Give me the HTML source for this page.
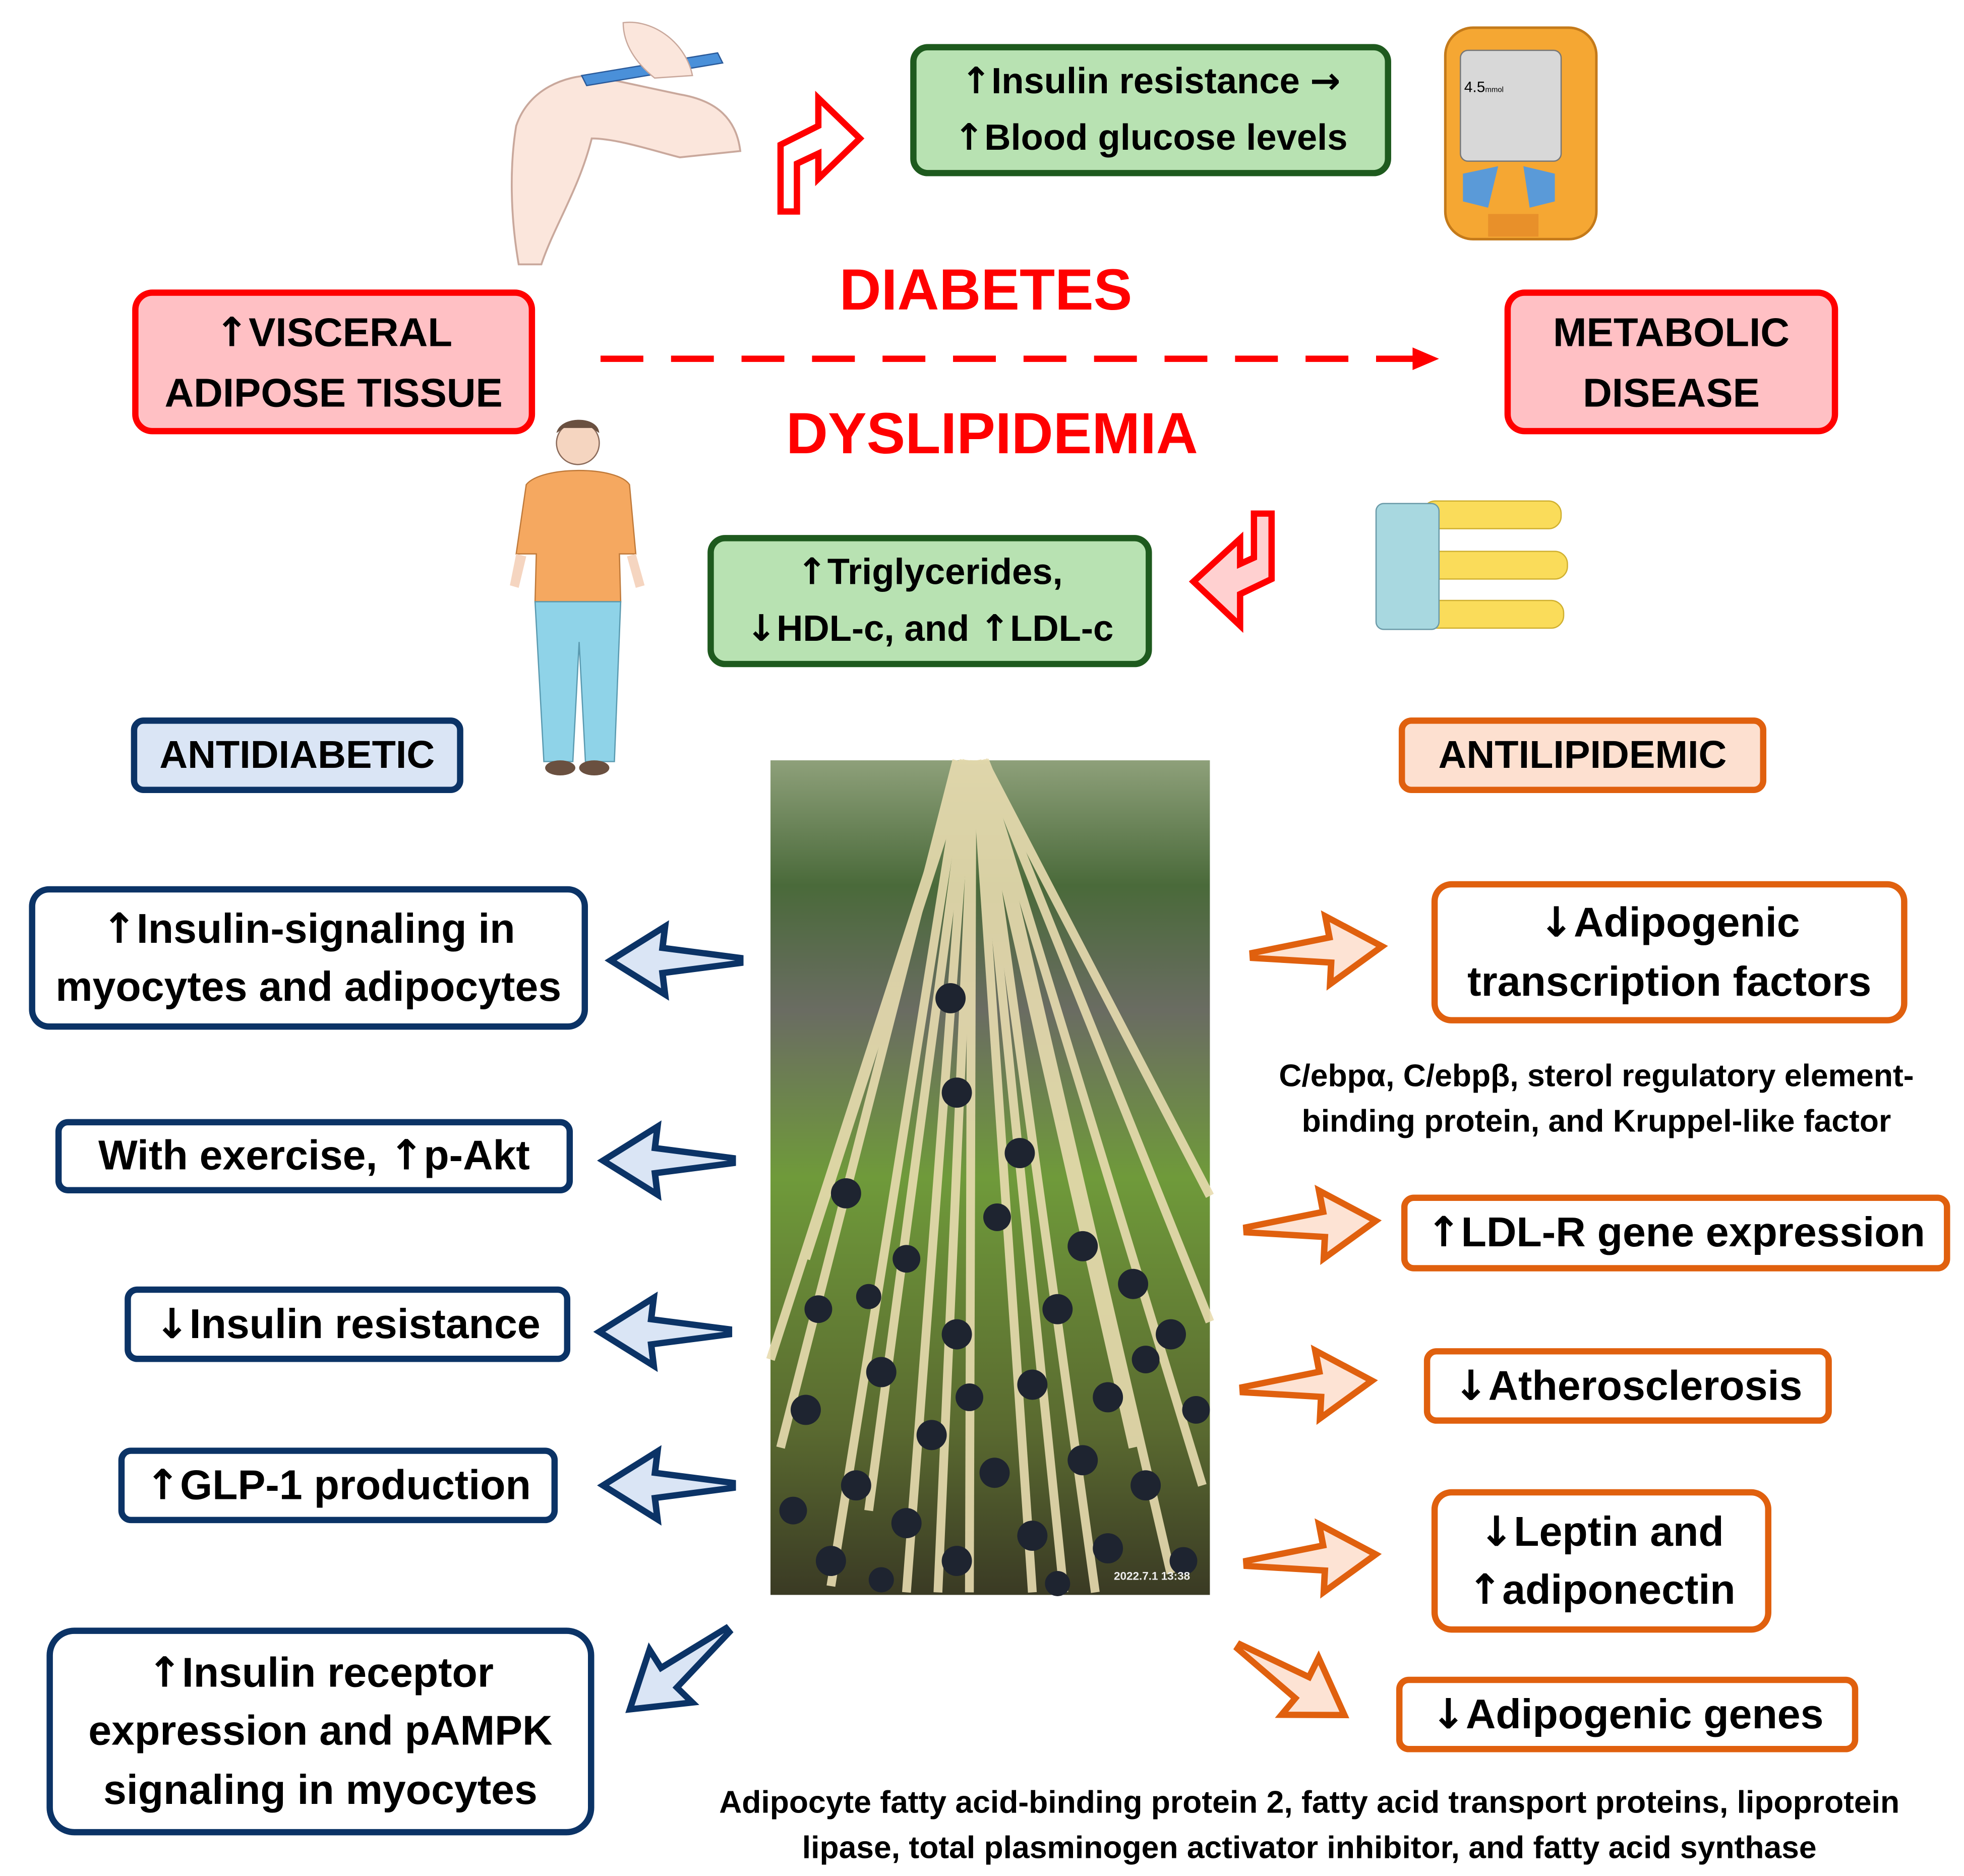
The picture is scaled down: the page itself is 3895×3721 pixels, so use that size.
<!DOCTYPE html>
<html><head><meta charset="utf-8"><style>
html,body{margin:0;padding:0;background:#fff;}
body{width:3895px;height:3721px;overflow:hidden;position:relative;}
#w{position:absolute;left:0;top:0;width:1560px;height:1490px;transform:scale(2.4968);transform-origin:0 0;font-family:"Liberation Sans",sans-serif;font-weight:bold;}
.b{position:absolute;box-sizing:border-box;border-radius:16px;display:flex;align-items:center;justify-content:center;text-align:center;line-height:1.4;color:#000;}
.r{background:#ffc0c4;border:5px solid #ff0000;font-size:32px;line-height:1.5;}
.g{background:#b8e2b2;border:5px solid #1e5a1e;font-size:29px;border-radius:14px;}
.n{background:#fff;border:5px solid #0b3366;font-size:33px;}
.o{background:#fff;border:5px solid #e0600e;font-size:33px;}
.t{position:absolute;text-align:center;font-size:25px;line-height:36px;color:#000;white-space:nowrap;}
.big{position:absolute;color:#ff0000;font-size:46px;text-align:center;white-space:nowrap;}
i{font-style:normal;font-family:"DejaVu Sans",sans-serif;font-weight:bold;}
svg{position:absolute;left:0;top:0;}
</style></head><body><div id="w">
<svg width="1560" height="1490" viewBox="0 0 1560 1490">
<defs>
<linearGradient id="ph" x1="0" y1="0" x2="0" y2="1">
<stop offset="0" stop-color="#8ea07a"/><stop offset="0.15" stop-color="#4a6a3a"/><stop offset="0.3" stop-color="#6a6c62"/><stop offset="0.5" stop-color="#6f9a3a"/><stop offset="0.8" stop-color="#5a6a30"/><stop offset="1" stop-color="#3a3a24"/>
</linearGradient>
<path id="ar" d="M0,-2 L60,-10 L58,-27 L100,0 L58,27 L60,10 L0,2 Z"/>
</defs>
<rect x="612" y="604" width="349" height="663" fill="url(#ph)"/>
<g stroke="#e8dcb0" stroke-width="7" fill="none" opacity="0.9">
<path d="M760,604 L620,1150"/><path d="M765,604 L660,1260"/><path d="M770,604 L720,1265"/><path d="M772,604 L770,1265"/><path d="M775,604 L820,1265"/><path d="M778,604 L870,1265"/><path d="M780,604 L930,1250"/><path d="M782,604 L961,1050"/><path d="M768,604 L640,1000"/><path d="M776,604 L900,1150"/><path d="M770,604 L690,1200"/><path d="M779,604 L955,1180"/>
<path d="M774,604 L745,1265"/><path d="M777,604 L845,1265"/><path d="M766,604 L612,1080"/><path d="M781,604 L961,950"/>
</g>
<g fill="#1e2430">
<circle cx="755" cy="793" r="12"/><circle cx="760" cy="868" r="12"/><circle cx="810" cy="916" r="12"/><circle cx="672" cy="948" r="12"/><circle cx="860" cy="990" r="12"/><circle cx="792" cy="967" r="11"/>
<circle cx="720" cy="1000" r="11"/><circle cx="840" cy="1040" r="12"/><circle cx="900" cy="1020" r="12"/><circle cx="650" cy="1040" r="11"/><circle cx="760" cy="1060" r="12"/><circle cx="930" cy="1060" r="12"/>
<circle cx="700" cy="1090" r="12"/><circle cx="820" cy="1100" r="12"/><circle cx="880" cy="1110" r="12"/><circle cx="640" cy="1120" r="12"/><circle cx="950" cy="1120" r="11"/><circle cx="740" cy="1140" r="12"/>
<circle cx="790" cy="1170" r="12"/><circle cx="860" cy="1160" r="12"/><circle cx="910" cy="1180" r="12"/><circle cx="680" cy="1180" r="12"/><circle cx="630" cy="1200" r="11"/><circle cx="720" cy="1210" r="12"/>
<circle cx="820" cy="1220" r="12"/><circle cx="880" cy="1230" r="12"/><circle cx="760" cy="1240" r="12"/><circle cx="660" cy="1240" r="12"/><circle cx="940" cy="1240" r="11"/><circle cx="700" cy="1255" r="10"/><circle cx="840" cy="1258" r="10"/>
<circle cx="770" cy="1110" r="11"/><circle cx="910" cy="1080" r="11"/><circle cx="690" cy="1030" r="10"/>
</g>
<text x="915" y="1255" font-size="9" fill="#eee" text-anchor="middle" font-family="Liberation Sans">2022.7.1 13:38</text>
<line x1="477" y1="285" x2="1125" y2="285" stroke="#ff0000" stroke-width="5" stroke-dasharray="34,22"/>
<path d="M1122,276 L1143,285 L1122,294 Z" fill="#ff0000"/>
<g fill="#dae5f5" stroke="#0b3366" stroke-width="5" stroke-linejoin="miter">
<use href="#ar" transform="translate(588,763) rotate(180) scale(1.03,1)"/>
<use href="#ar" transform="translate(582,922) rotate(180) scale(1.03,1)"/>
<use href="#ar" transform="translate(579,1058) rotate(180) scale(1.03,1)"/>
<use href="#ar" transform="translate(582,1180) rotate(180) scale(1.03,1)"/>
<use href="#ar" transform="translate(578,1295) rotate(141) scale(1.0,1)"/>
</g>
<g fill="#fde3d4" stroke="#e0600e" stroke-width="5">
<use href="#ar" transform="translate(995,759) rotate(-4) scale(1.03,1)"/>
<use href="#ar" transform="translate(990,977) rotate(-4) scale(1.03,1)"/>
<use href="#ar" transform="translate(987,1104) rotate(-4) scale(1.03,1)"/>
<use href="#ar" transform="translate(990,1242) rotate(-4) scale(1.03,1)"/>
<use href="#ar" transform="translate(984,1308) rotate(33) scale(1.0,1)"/>
</g>
<path d="M620,168 L620,115 L650,100 L650,78 L683,110 L650,142 L650,122 L633,130 L633,168 Z" fill="#fff" stroke="#ff0000" stroke-width="5"/>
<path d="M1010,408 L1010,460 L985,472 L985,497 L948,462 L985,428 L985,448 L996,443 L996,408 Z" fill="#ffd0d0" stroke="#ff0000" stroke-width="5"/>
<path d="M410,100 C420,70 450,60 470,60 L540,75 C570,80 585,95 588,120 L540,125 C520,120 490,110 470,110 C460,150 440,180 430,210 L412,210 C405,170 405,130 410,100 Z" fill="#fbe6dc" stroke="#c9a89c" stroke-width="1.5"/>
<path d="M462,60 L570,42 L574,50 L466,68 Z" fill="#4a90d9" stroke="#2a5a9a"/>
<path d="M495,18 C520,15 545,35 550,60 L520,62 C505,50 495,35 495,18 Z" fill="#fbe6dc" stroke="#c9a89c"/>
<rect x="1148" y="22" width="120" height="168" rx="22" fill="#f5a733" stroke="#c47a1a" stroke-width="2"/>
<rect x="1160" y="40" width="80" height="88" rx="6" fill="#d8d8d8" stroke="#777"/>
<text x="1163" y="73" font-size="12" font-family="Liberation Sans" font-weight="normal">4.5<tspan font-size="6">mmol</tspan></text>
<path d="M1162,138 L1190,132 L1182,165 L1162,160 Z" fill="#5a9ad8"/><path d="M1235,138 L1210,132 L1215,165 L1235,160 Z" fill="#5a9ad8"/>
<rect x="1182" y="170" width="40" height="18" fill="#e8902a"/>
<circle cx="459" cy="352" r="17" fill="#f5d5c0" stroke="#8a6a5a"/>
<path d="M442,344 C445,330 475,330 476,344 L470,340 L448,340 Z" fill="#6a5040"/>
<path d="M418,385 C430,370 490,370 500,385 L505,440 L492,440 L493,478 L425,478 L426,440 L410,440 Z" fill="#f5a860" stroke="#c07a3a"/>
<path d="M410,440 L405,465 L412,467 L418,442 Z M505,440 L512,465 L505,467 L498,442 Z" fill="#f5d5c0"/>
<path d="M425,478 L493,478 L488,605 L465,605 L460,510 L455,605 L432,605 Z" fill="#8fd3e8" stroke="#5a9ab0"/>
<ellipse cx="445" cy="610" rx="12" ry="6" fill="#6a5040"/><ellipse cx="472" cy="610" rx="12" ry="6" fill="#6a5040"/>
<rect x="1130" y="398" width="110" height="22" rx="10" fill="#fadc5a" stroke="#d0b030"/>
<rect x="1130" y="438" width="115" height="22" rx="10" fill="#fadc5a" stroke="#d0b030"/>
<rect x="1130" y="477" width="112" height="22" rx="10" fill="#fadc5a" stroke="#d0b030"/>
<rect x="1093" y="400" width="50" height="100" rx="6" fill="#a8d8e0" stroke="#6a9aa8"/>
</svg>

<div class="b r" style="left:105px;top:230px;width:320px;height:115px;"><span><i>↑</i>VISCERAL<br>ADIPOSE TISSUE</span></div>
<div class="b r" style="left:1195px;top:230px;width:265px;height:115px;">METABOLIC<br>DISEASE</div>
<div class="big" style="left:583px;top:203px;width:400px;">DIABETES</div>
<div class="big" style="left:538px;top:317px;width:500px;">DYSLIPIDEMIA</div>
<div class="b g" style="left:723px;top:35px;width:382px;height:105px;line-height:1.5;"><span><i>↑</i>Insulin resistance <i>→</i><br><i>↑</i>Blood glucose levels</span></div>
<div class="b g" style="left:562px;top:425px;width:353px;height:105px;line-height:1.5;"><span><i>↑</i>Triglycerides,<br><i>↓</i>HDL-c, and <i>↑</i>LDL-c</span></div>
<div class="b" style="left:104px;top:570px;width:264px;height:60px;background:#dae5f5;border:5px solid #0b3366;font-size:31px;border-radius:10px;">ANTIDIABETIC</div>
<div class="b" style="left:1111px;top:570px;width:292px;height:60px;background:#fde0d0;border:5px solid #e0600e;font-size:31px;border-radius:10px;">ANTILIPIDEMIC</div>

<div class="b n" style="left:23px;top:704px;width:444px;height:114px;"><span><i>↑</i>Insulin-signaling in<br>myocytes and adipocytes</span></div>
<div class="b n" style="left:44px;top:889px;width:411px;height:59px;border-radius:10px;"><span>With exercise, <i>↑</i>p-Akt</span></div>
<div class="b n" style="left:99px;top:1022px;width:354px;height:60px;border-radius:10px;"><span><i>↓</i>Insulin resistance</span></div>
<div class="b n" style="left:94px;top:1150px;width:349px;height:60px;border-radius:10px;"><span><i>↑</i>GLP-1 production</span></div>
<div class="b n" style="left:37px;top:1293px;width:435px;height:165px;border-radius:22px;"><span><i>↑</i>Insulin receptor<br>expression and pAMPK<br>signaling in myocytes</span></div>

<div class="b o" style="left:1137px;top:700px;width:378px;height:113px;"><span><i>↓</i>Adipogenic<br>transcription factors</span></div>
<div class="b o" style="left:1113px;top:949px;width:436px;height:61px;border-radius:10px;"><span><i>↑</i>LDL-R gene expression</span></div>
<div class="b o" style="left:1131px;top:1071px;width:324px;height:60px;border-radius:10px;"><span><i>↓</i>Atherosclerosis</span></div>
<div class="b o" style="left:1137px;top:1183px;width:270px;height:114px;"><span><i>↓</i>Leptin and<br><i>↑</i>adiponectin</span></div>
<div class="b o" style="left:1109px;top:1332px;width:367px;height:60px;border-radius:10px;"><span><i>↓</i>Adipogenic genes</span></div>

<div class="t" style="left:968px;top:837px;width:600px;">C/ebpα, C/ebpβ, sterol regulatory element-<br>binding protein, and Kruppel-like factor</div>
<div class="t" style="left:520px;top:1414px;width:1040px;">Adipocyte fatty acid-binding protein 2, fatty acid transport proteins, lipoprotein<br>lipase, total plasminogen activator inhibitor, and fatty acid synthase</div>
</div></body></html>
